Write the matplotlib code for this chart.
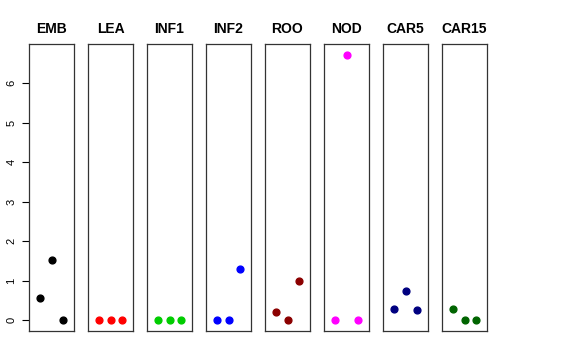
import numpy as np
import matplotlib.pyplot as plt

# panel names, point values and colours
groups = ['EMB', 'LEA', 'INF1', 'INF2', 'ROO', 'NOD', 'CAR5', 'CAR15']
values = [
    [0.57, 1.52, 0.0],
    [0.0, 0.0, 0.0],
    [0.0, 0.0, 0.0],
    [0.0, 0.0, 1.3],
    [0.22, 0.0, 1.0],
    [0.0, 6.72, 0.0],
    [0.3, 0.75, 0.25],
    [0.28, 0.0, 0.0],
]
colors = ['black', 'red', '#00cd00', 'blue', '#8b0000', 'magenta', '#000080', '#006400']
yticks = [0, 1, 2, 3, 4, 5, 6]

plt.rcParams['font.family'] = ['Liberation Sans', 'DejaVu Sans']

W, H = 576, 360
fig = plt.figure(figsize=(W / 100, H / 100), dpi=100)

ymax = max(max(v) for v in values)
pad = ymax * 0.04

for i, (name, vals, col) in enumerate(zip(groups, values, colors)):
    left = 29 + i * 59
    ax = fig.add_axes([left / W, (H - 331) / H, 45 / W, 287 / H])
    ax.scatter(np.arange(1, len(vals) + 1), vals, s=24, color=col, zorder=3)
    ax.set_xlim(0, 4)
    ax.set_ylim(-pad, ymax + pad)
    ax.set_xticks([])
    ax.set_title(name, fontsize=10, fontweight='bold', pad=8)
    for sp in ax.spines.values():
        sp.set_linewidth(0.9)
        sp.set_color('#333333')
    if i == 0:
        ax.set_yticks(yticks)
        ax.tick_params(axis='y', labelsize=8, length=5, width=0.8, pad=4)
        for lab in ax.get_yticklabels():
            lab.set_rotation(90)
            lab.set_va('center')
    else:
        ax.set_yticks([])

fig.savefig('out.png', dpi=100)
